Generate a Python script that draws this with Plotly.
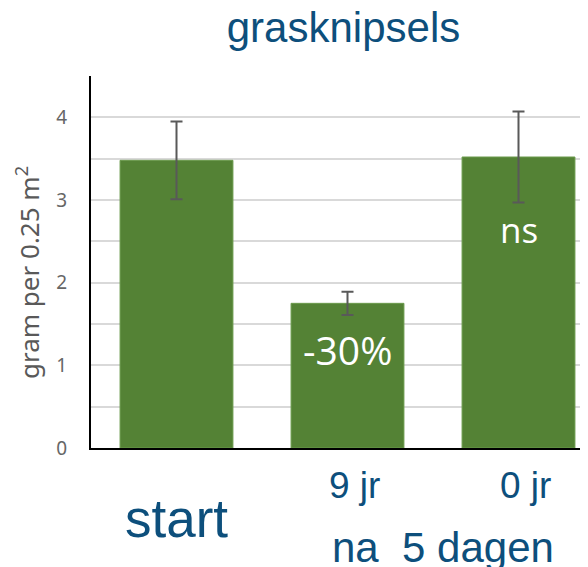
import plotly.graph_objects as go

categories = ["start", "9 jr", "0 jr"]
values = [3.48, 1.75, 3.52]
errors = [0.47, 0.14, 0.55]
bar_notes = ["", "-30%", "ns"]
note_y = [0, 1.19, 2.64]
tick_vals = [0, 0.5, 1, 1.5, 2, 2.5, 3, 3.5, 4, 4.5]
tick_text = ["0", "", "1", "", "2", "", "3", "", "4", ""]

BLUE = "#0d4f7c"
GREEN = "#548235"

OFF = 8  # page body margin
W, H = 588, 567
PLOT_LEFT = 91 - OFF
PLOT_TOP, PLOT_BOTTOM = 76 - OFF, 448 - OFF
PH = PLOT_BOTTOM - PLOT_TOP
PW = W - PLOT_LEFT
CAT_PX = 171.0  # pixel width of one category slot
X_MAX = -0.5 + PW / CAT_PX


def py(pix):
    return (PLOT_BOTTOM - (pix - OFF)) / PH


def px(pix):
    return ((pix - OFF) - PLOT_LEFT) / PW


fig = go.Figure()
fig.add_trace(go.Bar(
    x=categories, y=values,
    marker=dict(color=GREEN, line=dict(color="#6b9a4c", width=1)),
    width=0.66,
    error_y=dict(type="data", array=errors, visible=True, color="#595959",
                 thickness=2, width=6),
    showlegend=False,
))

note_sizes = [0, 39, 35]
for i, note in enumerate(bar_notes):
    if note:
        fig.add_annotation(x=categories[i], y=note_y[i], xref="x", yref="y",
                           text=note, showarrow=False,
                           font=dict(family="Open Sans", size=note_sizes[i], color="white"))

# category labels under the axis
fig.add_annotation(x=0.0, y=py(518), xref="x", yref="paper", yanchor="middle",
                   text="start", showarrow=False,
                   font=dict(family="Liberation Sans", size=53, color=BLUE))
fig.add_annotation(x=1.04, y=py(486), xref="x", yref="paper", yanchor="middle",
                   text="9 jr", showarrow=False,
                   font=dict(family="Liberation Sans", size=37, color=BLUE))
fig.add_annotation(x=2.04, y=py(486), xref="x", yref="paper", yanchor="middle",
                   text="0 jr", showarrow=False,
                   font=dict(family="Liberation Sans", size=37, color=BLUE))
fig.add_annotation(x=1.56, y=py(547), xref="x", yref="paper", yanchor="middle",
                   text="na  5 dagen", showarrow=False,
                   font=dict(family="Liberation Sans", size=42, color=BLUE))

# y-axis title
fig.add_annotation(x=px(28), y=py(273), xref="paper", yref="paper",
                   xanchor="center", yanchor="middle", textangle=-90,
                   text="gram per 0.25 m<sup>2</sup>", showarrow=False,
                   font=dict(family="Noto Sans", size=26, color="#595959"))

fig.update_layout(
    width=W, height=H,
    margin=dict(l=PLOT_LEFT, r=0, t=PLOT_TOP, b=H - PLOT_BOTTOM, autoexpand=False),
    paper_bgcolor="white", plot_bgcolor="white",
    title=dict(text="grasknipsels", x=(343.5 - OFF) / W, xanchor="center",
               y=1 - (27 - OFF) / H, yanchor="middle", xref="container", yref="container",
               font=dict(family="Liberation Sans", size=42, color=BLUE)),
    xaxis=dict(range=[-0.5, X_MAX], showticklabels=False, ticks="",
               showline=True, linecolor="black", linewidth=2, showgrid=False,
               zeroline=False, automargin=False),
    yaxis=dict(range=[0, 4.5], tickvals=tick_vals, ticktext=tick_text,
               showgrid=True, gridcolor="#d9d9d9", gridwidth=1.5,
               showline=True, linecolor="black", linewidth=2, zeroline=False,
               ticks="", ticklabelstandoff=18, automargin=False,
               tickfont=dict(family="Noto Sans", size=19, color="#666666")),
    bargap=0.34,
)

fig.write_html("out.html")
